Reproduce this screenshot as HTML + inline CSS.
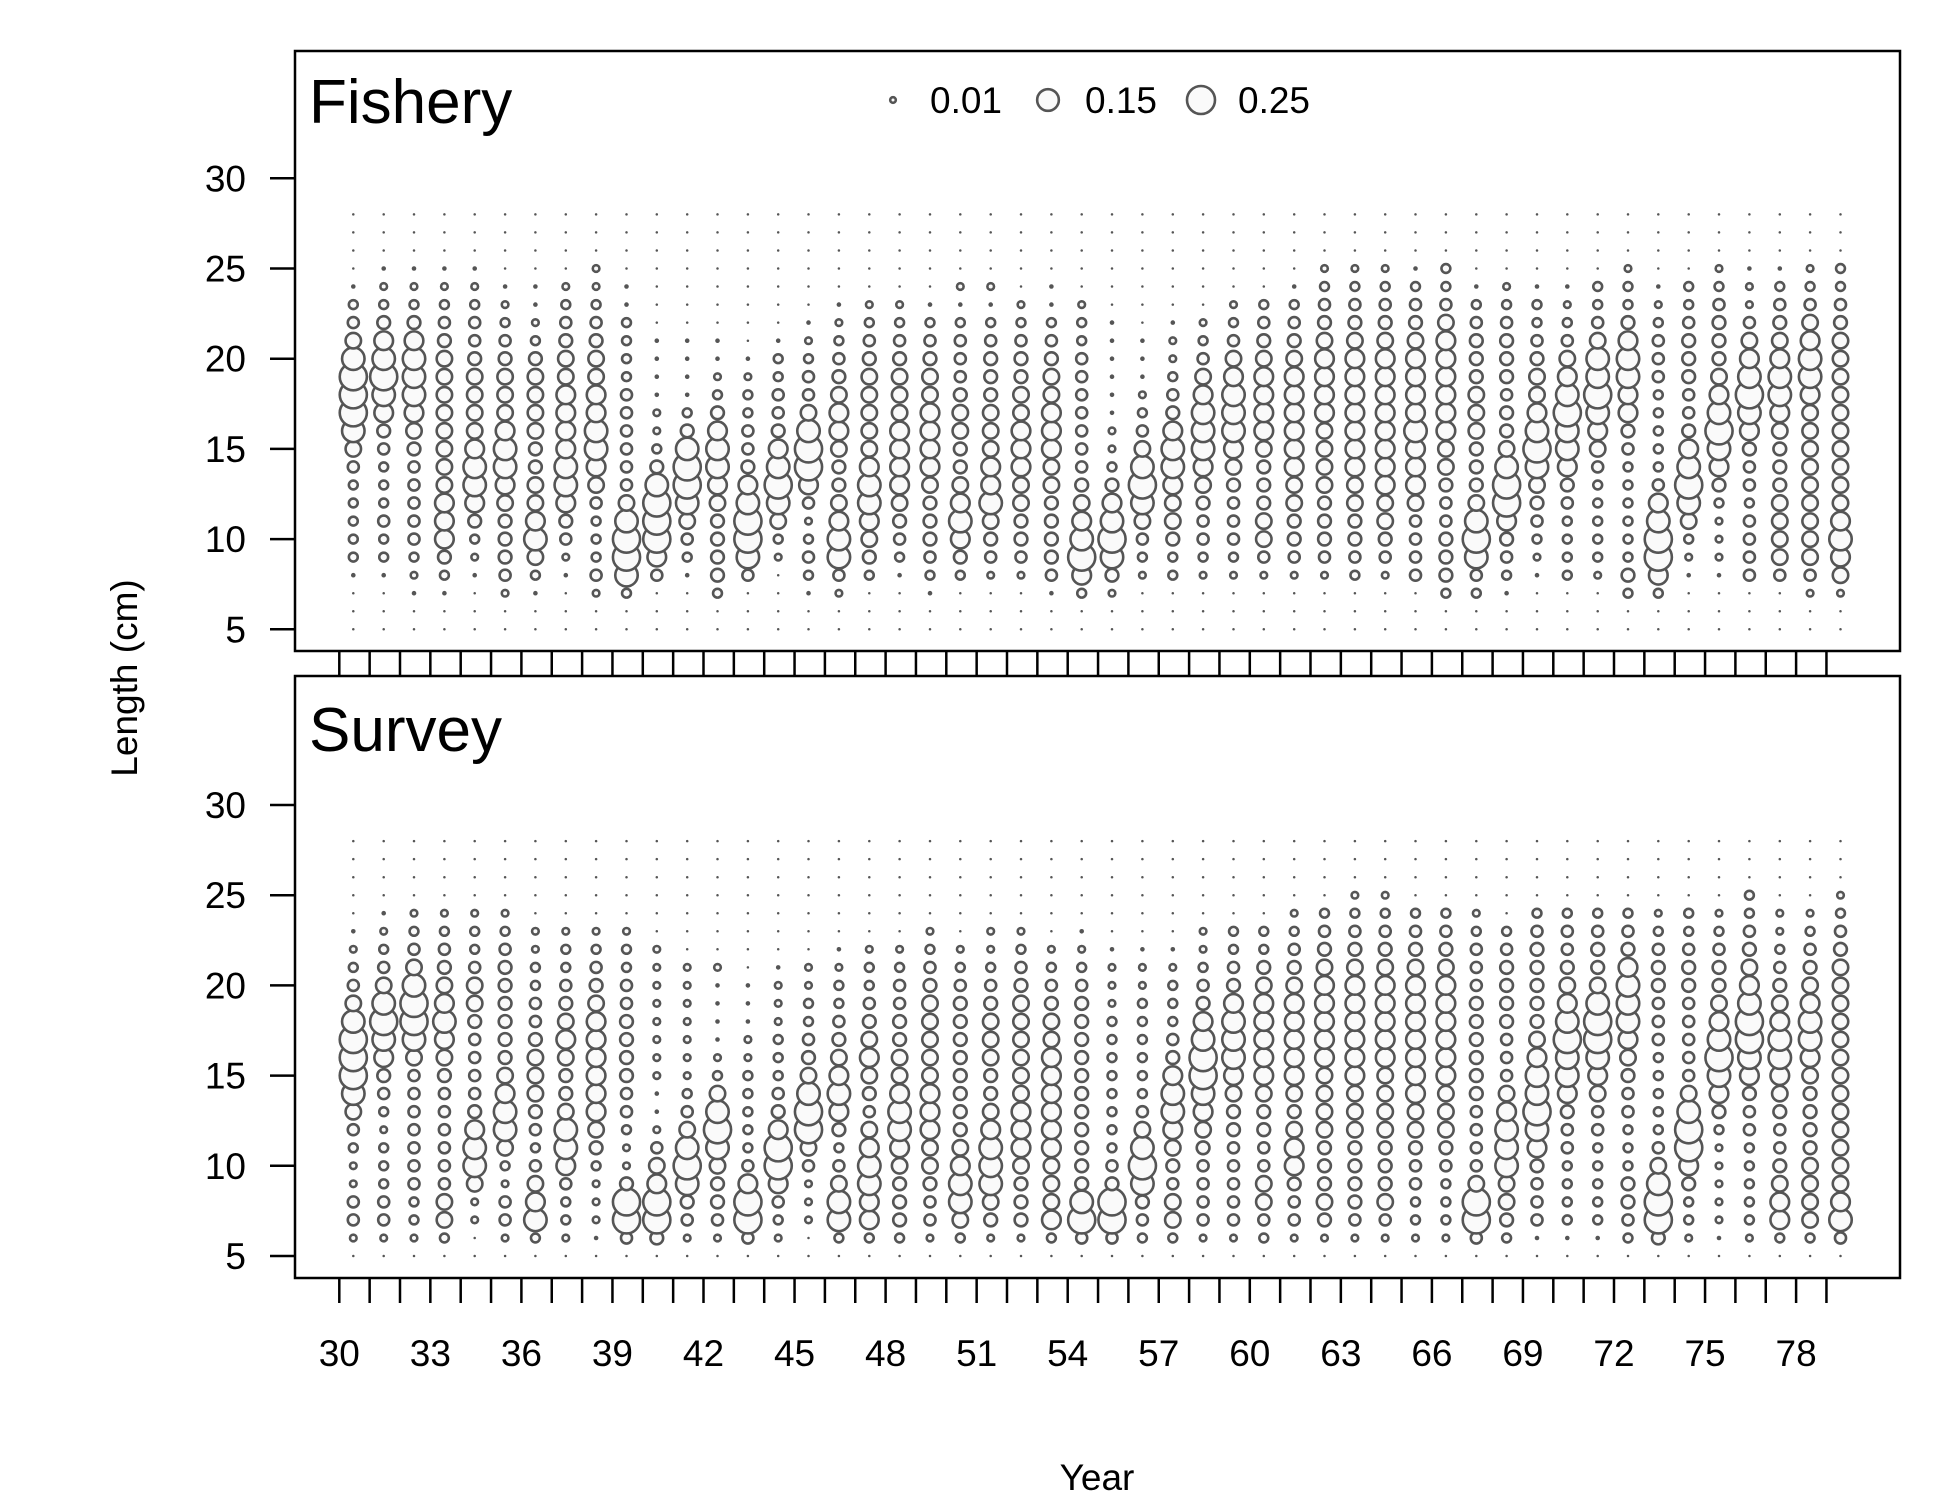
<!DOCTYPE html>
<html><head><meta charset="utf-8">
<style>
html,body{margin:0;padding:0;background:#fff;}
svg{display:block;font-family:"Liberation Sans",Arial,sans-serif;}
</style></head>
<body>
<svg id="chart" width="1950" height="1500" viewBox="0 0 1950 1500" xmlns="http://www.w3.org/2000/svg">
<rect x="0" y="0" width="1950" height="1500" fill="#fff"/>
<g id="frame"></g>
<g id="marks"></g>
</svg>
<script>
// ---- data ----
const years = [];
for (let y = 30; y <= 79; y++) years.push(y);
const lengths = [];
for (let l = 5; l <= 28; l++) lengths.push(l);
const xTickLabels = [30,33,36,39,42,45,48,51,54,57,60,63,66,69,72,75,78];
const yTickLabels = [5,10,15,20,25,30];
// proportion represented by each level code used in the column strings
const levelValues = [0.0022,0.0075,0.014,0.025,0.039,0.052,0.076,0.111,0.161,0.235];
const legendValues = [0.01,0.15,0.25];
const legendLabels = ["0.01","0.15","0.25"];
// each string: level codes for lengths 5..28 (bottom to top), one per year 30..79
const fisheryCols = [
"000133333468999864310000","000133433345789875321000","001234444456788875321000","001357776666666654321000",
"000123578876666544321000","002455567887666543210000","001368766556666532110000","000124578877776654320000",
"002433346788776654322000","003899864444443333110000","000479998532211110000000","000134689985311110000000",
"003555567887532110000000","000489987544332100000000","000023689875443310000000","001343247998644321000000",
"002488765567765432100000","000356788766666543200000","000134567777666543200000","001345556777766543100000",
"000357876556654443120000","000245687766655543120000","000245566777665543200000","001455556677766543110000",
"003798765444444433200000","002589875322111111000000","000234689864321110000000","000335667887543221000000",
"000234456788876432000000","000234445678887643200000","000246655567777654300000","000245566777777654310000",
"000245556666777765432000","000345566777777765432000","000245667777777765432000","000444467778777765431000",
"003555445667777776433000","003489865556665554310000","001345799865545554320000","000123456898766543310000",
"000333345788987643210000","000233333467898864330000","003533333345778875332000","003799874333334443210000",
"000123689875445554330000","000122235789876555432000","000444434457898764221000","000466665556788765431000",
"002466666666678876432000","002678766666666665433000"
];
const surveyCols = [
"024422346899986432100000","024433323457898643210000","023344444446899864320000","036644444456787654320000",
"002268875444456643320000","024423688765555554320000","038764345666544332200000","023347886556765433200000",
"012223567777776543200000","049952234455554433200000","059976421122222222000000","024589864322222220000000",
"024556898632111120000000","049974333332211100000000","023479975433322210000000","002224699865433220000000",
"038864357876543321000000","037788764567654332000000","035556788766554432000000","024456677766666543200000",
"036887655555555432000000","025688876556665432200000","025556777666666543200000","037666777777665432000000",
"049855555555555432100000","049954333333332221000000","034589864333333221000000","036645678875433321000000",
"024444567899875432200000","024444455678887543300000","034664455677777653300000","024457765677777654320000",
"025655566667777765430000","024555566677777765432000","024655566667777765432000","023344566777777765430000",
"023334566677777765430000","049964444555555444320000","035668887644455554300000","014445789887655555430000",
"013333445788987654430000","013333344678998655430000","034553334456788875430000","059986433333444554320000",
"023357998644444554330000","012222235789876554320000","023333344578998765433000","037765445678876543220000",
"036666555567887654320000","048766666666666665432000"
];

// ---- layout ----
const NS = "http://www.w3.org/2000/svg";
const plotLeft = 295, plotRight = 1900;
const panels = [
  {name:"fishery", title:"Fishery", top:51, bottom:651, y5:629.3, cols:fisheryCols},
  {name:"survey", title:"Survey", top:676, bottom:1278, y5:1256, cols:surveyCols}
];
const pxPerCm = 18.04;
const x0 = 339.3, pxPerYear = 30.35;
const xScale = yr => x0 + (yr - 30) * pxPerYear;
const dotOffset = 14;
const rScale = p => 28 * Math.sqrt(p);

function mk(tag, attrs, parent, text) {
  const e = document.createElementNS(NS, tag);
  for (const k in attrs) e.setAttribute(k, attrs[k]);
  if (text !== undefined) e.textContent = text;
  parent.appendChild(e);
  return e;
}
const frame = document.getElementById("frame");
const marks = document.getElementById("marks");

panels.forEach((pn, pi) => {
  const yScale = l => pn.y5 - (l - 5) * pxPerCm;
  const g = mk("g", {}, marks);
  
  
  pn.cols.forEach((col, ci) => {
    const yr = years[ci];
    for (let li = 0; li < lengths.length; li++) {
      const lvl = +col[li];
      const p = levelValues[lvl];
      const r = rScale(p);
      const small = r < 2.6;
      const c = mk("circle", {cx: (xScale(yr) + dotOffset).toFixed(1), cy: yScale(lengths[li]).toFixed(1), r: small ? (r * 0.95).toFixed(2) : r.toFixed(2),
        fill: small ? "#555" : "#fafafa", stroke: "#555", "stroke-width": small ? 0 : 2.6}, g);
      
      
    }
  });
  const box = mk("rect", {x: plotLeft, y: pn.top, width: plotRight - plotLeft, height: pn.bottom - pn.top,
    fill: "none", stroke: "#000", "stroke-width": 2.5}, frame);
  
  
  const t = mk("text", {x: 309, y: pi === 0 ? 123 : 751, "font-size": 62, fill: "#000"}, frame, pn.title);
  
  
  yTickLabels.forEach(v => {
    const y = yScale(v);
    const tk = mk("line", {x1: 270, x2: plotLeft, y1: y, y2: y, stroke: "#000", "stroke-width": 2.5}, frame);
    
    
    const lb = mk("text", {x: 246, y: y + 13, "font-size": 37, "text-anchor": "end", fill: "#000"}, frame, String(v));
    
    
  });
  years.forEach(yr => {
    const x = xScale(yr);
    const y1 = pn.bottom, y2 = pi === 0 ? panels[1].top : 1303;
    const tk = mk("line", {x1: x, x2: x, y1: y1, y2: y2, stroke: "#000", "stroke-width": 2.5}, frame);
    
    
  });
});

xTickLabels.forEach(v => {
  const lb = mk("text", {x: xScale(v), y: 1366, "font-size": 37, "text-anchor": "middle", fill: "#000"}, frame, String(v));
  
  
});

const legendX = [893, 1048, 1201];
legendValues.forEach((v, i) => {
  const c = mk("circle", {cx: legendX[i], cy: 100, r: rScale(v), fill: "#fafafa", stroke: "#555", "stroke-width": 2.6}, frame);
  
  
  const t = mk("text", {x: legendX[i] + 37, y: 113, "font-size": 37, fill: "#000"}, frame, legendLabels[i]);
  
  
});

const yl = mk("text", {x: 0, y: 0, "font-size": 37, "text-anchor": "middle", fill: "#000",
  transform: "translate(137,678) rotate(-90)"}, frame, "Length (cm)");


const xl = mk("text", {x: 1097, y: 1490, "font-size": 37, "text-anchor": "middle", fill: "#000"}, frame, "Year");


</script>
</body></html>
